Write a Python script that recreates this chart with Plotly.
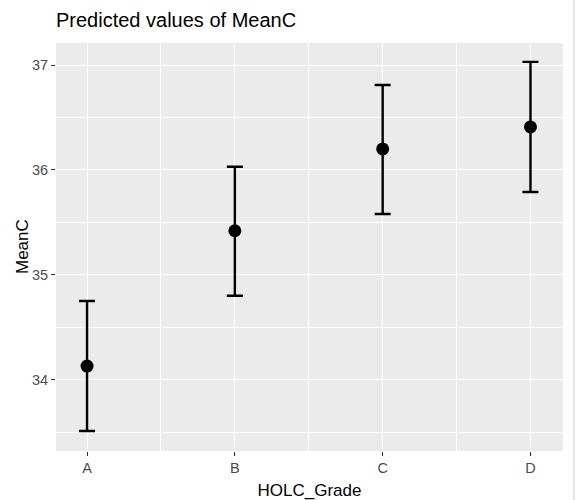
import plotly.graph_objects as go

categories = ["A", "B", "C", "D"]
predicted = [34.13, 35.42, 36.20, 36.41]
ci_low = [33.51, 34.80, 35.58, 35.79]
ci_high = [34.75, 36.03, 36.81, 37.03]

xpos = list(range(len(categories)))
err_plus = [h - p for h, p in zip(ci_high, predicted)]
err_minus = [p - l for p, l in zip(predicted, ci_low)]

fig = go.Figure()
fig.add_trace(go.Scatter(
    x=xpos, y=predicted, mode="markers",
    marker=dict(color="black", size=13),
    error_y=dict(type="data", symmetric=False, array=err_plus, arrayminus=err_minus,
                 color="black", thickness=2.4, width=8),
    showlegend=False,
))

font_family = "Liberation Sans, Arial, sans-serif"
L, R, T, B = 56, 12, 43, 49
pw = 575 - L - R
ph = 500 - T - B
fig.update_layout(
    width=575, height=500,
    margin=dict(l=L, r=R, t=T, b=B, autoexpand=False),
    paper_bgcolor="white",
    plot_bgcolor="#EBEBEB",
    font=dict(family=font_family),
    title=dict(text="Predicted values of MeanC", xref="container", yref="container",
               x=56/575, xanchor="left", y=1-20/500, yanchor="middle",
               font=dict(size=20, color="black", family=font_family)),
    xaxis=dict(
        range=[-0.21, 3.22], tickvals=xpos, ticktext=categories, automargin=False,
        showgrid=True, gridcolor="white", gridwidth=1.2, zeroline=False,
        ticks="outside", ticklen=4, tickcolor="#333333", tickwidth=1.2,
        tickfont=dict(size=14.5, color="#4D4D4D"),
        title=dict(text="HOLC_Grade", font=dict(size=17, color="black"), standoff=8),
        minor=dict(tickvals=[0.5, 1.5, 2.5], showgrid=True, gridcolor="white", gridwidth=0.6, ticks=""),
    ),
    yaxis=dict(
        range=[33.32, 37.21], tickvals=[34, 35, 36, 37], automargin=False,
        showgrid=True, gridcolor="white", gridwidth=1.2, zeroline=False,
        ticks="outside", ticklen=4, tickcolor="#333333", tickwidth=1.2,
        tickfont=dict(size=14.5, color="#4D4D4D"),
        minor=dict(tickvals=[33.5, 34.5, 35.5, 36.5], showgrid=True, gridcolor="white", gridwidth=0.6, ticks=""),
    ),
    annotations=[dict(text="MeanC", xref="paper", yref="paper", x=(22 - L) / pw, y=0.5,
                      xanchor="center", yanchor="middle", textangle=-90, showarrow=False,
                      font=dict(size=17, color="black", family=font_family))],
    shapes=[dict(type="line", xref="paper", yref="paper",
                 x0=(574 - L) / pw, x1=(574 - L) / pw, y0=-B / ph, y1=1 + T / ph,
                 line=dict(color="#CCCCCC", width=1))],
)

fig.write_html("out.html")
